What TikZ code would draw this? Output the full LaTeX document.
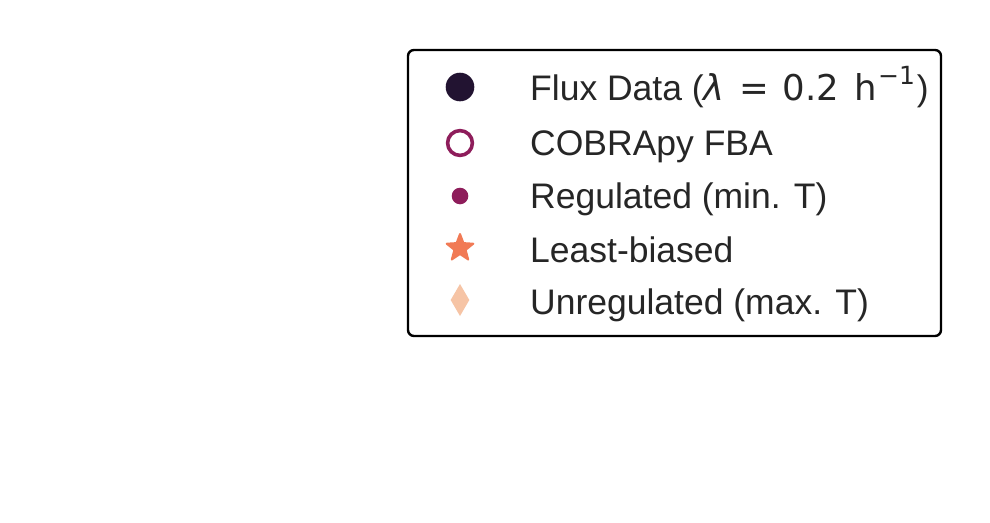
\documentclass[tikz,border=0pt]{standalone}
\usepackage{fontspec}
\setmainfont{Liberation Sans}
\newfontfamily\djv{DejaVu Sans}
\usetikzlibrary{shapes.geometric}
\definecolor{cdark}{HTML}{221331}
\definecolor{cmag}{HTML}{8E1D5B}
\definecolor{corange}{HTML}{F17A55}
\definecolor{cpeach}{HTML}{F6C4A5}
\definecolor{ctext}{HTML}{262626}
\tikzset{
  lbl/.style={anchor=base west, inner sep=0pt, text=ctext, font=\fontsize{35.5}{42}\selectfont},
  legbox/.style={draw=black, line width=2.4pt, rounded corners=6pt, fill=white}
}
\begin{document}
\begin{tikzpicture}[x=1pt,y=-1pt]
\useasboundingbox (0,0) rectangle (990,522);
\draw[legbox] (408,50) rectangle (941,336);
% markers
\fill[cdark] (460,87) circle (14.3);
\draw[cmag, line width=3.6pt] (460,143) circle (12.4);
\fill[cmag] (460,196) circle (8.3);
\fill[corange, draw=corange, line width=2pt, line join=round]
  (460,234) -- (463.4,243.1) -- (473.3,243.7) -- (465.6,249.9) -- (468.2,259.5)
  -- (460,254) -- (451.8,259.5) -- (454.4,249.9) -- (446.7,243.7) -- (456.6,243.1) -- cycle;
\fill[cpeach] (460,284) -- (469.3,300) -- (460,316) -- (450.7,300) -- cycle;
% labels
\node[lbl] (l1) at (530,100) {Flux Data ({\djv\itshape λ}{\djv\hspace{0.4em}=\hspace{0.4em}0.2\hspace{0.42em}h\hspace{0.04em}\raisebox{0.45em}{\fontsize{25}{30}\selectfont −1}}\hspace{0.05em})};
\node[lbl] (l2) at (530,155) {COBRApy FBA};
\node[lbl] (l3) at (530,208) {Regulated (min. T)};
\node[lbl] (l4) at (530,262) {Least-biased};
\node[lbl] (l5) at (530,314) {Unregulated (max. T)};
\end{tikzpicture}
\end{document}
